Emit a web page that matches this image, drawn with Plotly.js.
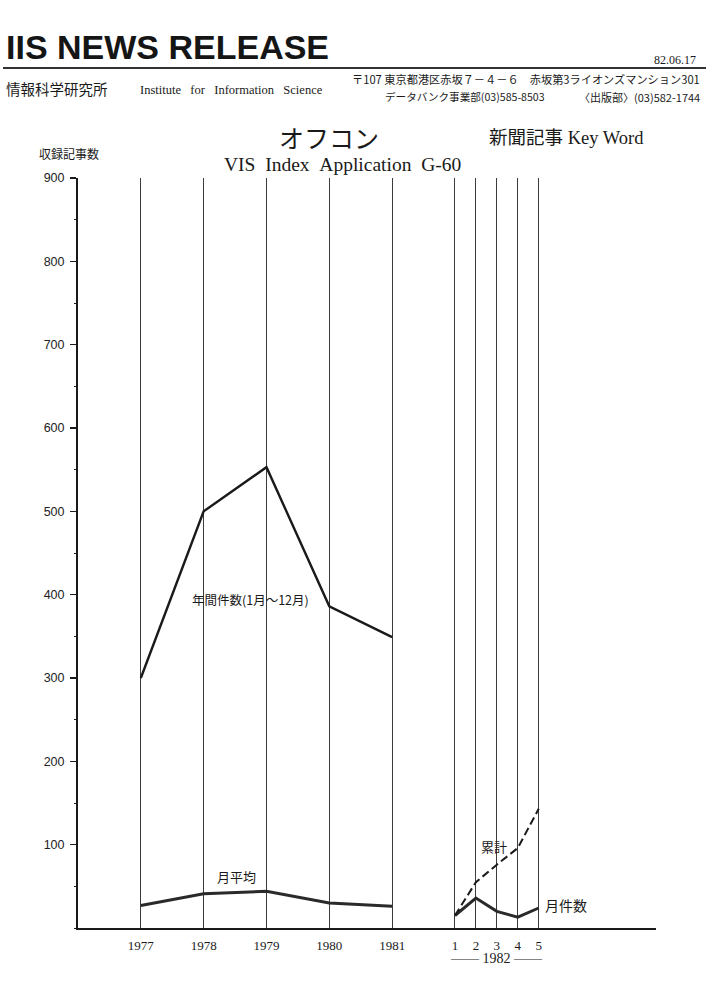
<!DOCTYPE html>
<html>
<head>
<meta charset="utf-8">
<script src="https://cdn.plot.ly/plotly-3.0.1.min.js"></script>
<style>
  html, body { margin: 0; padding: 0; background: #ffffff; }
  #chart { width: 709px; height: 983px; }
</style>
</head>
<body>
<div id="chart"></div>
<script>
// ---- data ----
const years = [1977, 1978, 1979, 1980, 1981];
const annualCounts = [300, 500, 553, 386, 349];      // 年間件数(1月～12月)
const monthlyAverage = [27, 41, 44, 30, 26];         // 月平均
const months1982 = [1, 2, 3, 4, 5];
const monthlyCounts1982 = [15, 36, 20, 13, 24];      // 月件数
const cumulative1982 = [15, 55, 76, 96, 143];        // 累計
const yTickValues = [100, 200, 300, 400, 500, 600, 700, 800, 900];

// positions on the x scale: one year = 3 units, one month = 1 unit
const yearX = years.map(y => (y - years[0]) * 3);
const monthX = months1982.map(m => (years.length - 1) * 3 + 3 + (m - 1));

// layout helpers (page pixels -> paper coordinates)
const PL = 78, PT = 178, PW = 578, PH = 750, PB = PT + PH;
const px = x => (x - PL) / PW;
const py = y => (PB - y) / PH;

const serif = '"Liberation Serif", "Times New Roman", "Noto Sans CJK JP", serif';
const sans = '"Liberation Sans", Arial, "Noto Sans CJK JP", sans-serif';
const cjk = '"Noto Sans CJK JP", "Noto Sans CJK SC", sans-serif';
const ink = '#1a1a1a';

const traces = [
  { x: yearX, y: annualCounts, type: 'scatter', mode: 'lines', name: '年間件数',
    line: { color: ink, width: 2.4 }, hoverinfo: 'skip' },
  { x: yearX, y: monthlyAverage, type: 'scatter', mode: 'lines', name: '月平均',
    line: { color: '#2a2a2a', width: 3 }, hoverinfo: 'skip' },
  { x: monthX, y: monthlyCounts1982, type: 'scatter', mode: 'lines', name: '月件数',
    line: { color: '#2a2a2a', width: 3 }, hoverinfo: 'skip' },
  { x: monthX, y: cumulative1982, type: 'scatter', mode: 'lines', name: '累計',
    line: { color: ink, width: 2, dash: '8px,4px' }, hoverinfo: 'skip' }
];

const nb = '\u00a0';
const annotations = [
  // header
  { text: '<b>IIS NEWS RELEASE</b>', x: px(4), y: py(47), xanchor: 'left', yanchor: 'middle',
    font: { family: sans, size: 34, color: '#151515' } },
  { text: '82.06.17', x: px(698), y: py(60), xanchor: 'right', yanchor: 'middle',
    font: { family: serif, size: 12, color: ink } },
  { text: '情報科学研究所', x: px(4), y: py(89), xanchor: 'left', yanchor: 'middle',
    font: { family: cjk, size: 14.5, color: ink } },
  { text: 'Institute' + nb + nb + nb + 'for' + nb + nb + nb + 'Information' + nb + nb + nb + 'Science', x: px(138), y: py(90), xanchor: 'left', yanchor: 'middle',
    font: { family: serif, size: 12.5, color: ink } },
  { text: '〒107 東京都港区赤坂７－４－６　赤坂第3ライオンズマンション301', x: px(702), y: py(79), xanchor: 'right', yanchor: 'middle',
    font: { family: cjk, size: 11.2, color: ink } },
  { text: 'データバンク事業部(03)585-8503', x: px(383), y: py(97), xanchor: 'left', yanchor: 'middle',
    font: { family: cjk, size: 10.6, color: ink } },
  { text: '〈出版部〉(03)582-1744', x: px(702), y: py(97), xanchor: 'right', yanchor: 'middle',
    font: { family: cjk, size: 11, color: ink } },
  // titles
  { text: 'オフコン', x: px(329), y: py(137), xanchor: 'center', yanchor: 'middle',
    font: { family: cjk, size: 25, color: ink } },
  { text: '新聞記事 Key Word', x: px(487), y: py(138), xanchor: 'left', yanchor: 'middle',
    font: { family: serif, size: 18.5, color: ink } },
  { text: 'VIS' + nb + nb + 'Index' + nb + nb + 'Application' + nb + nb + 'G-60', x: px(222), y: py(165), xanchor: 'left', yanchor: 'middle',
    font: { family: serif, size: 19.5, color: ink } },
  { text: '収録記事数', x: px(37), y: py(154), xanchor: 'left', yanchor: 'middle',
    font: { family: cjk, size: 12, color: ink } },
  // series labels (data coordinates)
  { text: '年間件数(1月～12月)', xref: 'x', yref: 'y', x: 5.25, y: 394, xanchor: 'center', yanchor: 'middle',
    font: { family: cjk, size: 12.5, color: ink } },
  { text: '月平均', xref: 'x', yref: 'y', x: 4.58, y: 62, xanchor: 'center', yanchor: 'middle',
    font: { family: cjk, size: 13, color: ink } },
  { text: '累計', xref: 'x', yref: 'y', x: 16.85, y: 98, xanchor: 'center', yanchor: 'middle',
    font: { family: cjk, size: 13, color: ink } },
  { text: '月件数', xref: 'x', yref: 'y', x: 19.2, y: 28, xanchor: 'left', yanchor: 'middle',
    font: { family: cjk, size: 14, color: ink } },
  // 1982 group label
  { text: '——' + nb + '1982' + nb + '——', xref: 'x', x: 17, y: py(958), xanchor: 'center', yanchor: 'middle',
    font: { family: serif, size: 14, color: ink } }
].map(a => Object.assign({ xref: 'paper', yref: 'paper', showarrow: false }, a));

const shapes = [
  { type: 'line', xref: 'paper', yref: 'paper', x0: px(3), x1: px(706), y0: py(68), y1: py(68),
    line: { color: '#333', width: 1.8 } }
];

const layout = {
  width: 709, height: 983,
  margin: { l: PL, r: 709 - PL - PW, t: PT, b: 983 - PB, pad: 0 },
  paper_bgcolor: '#ffffff', plot_bgcolor: '#ffffff',
  showlegend: false,
  xaxis: {
    range: [-3, 24.6], fixedrange: true,
    tickmode: 'array',
    tickvals: yearX.concat(monthX),
    ticktext: years.map(String).concat(months1982.map(String)),
    ticks: '', showgrid: true, gridcolor: '#3c3c3c', gridwidth: 1,
    zeroline: false, showline: true, linecolor: '#1a1a1a', linewidth: 2,
    tickfont: { family: serif, size: 13, color: ink },
    ticklabelstandoff: 4
  },
  yaxis: {
    range: [0, 900], fixedrange: true,
    tickmode: 'array', tickvals: yTickValues, ticktext: yTickValues.map(String),
    ticks: 'outside', ticklen: 6, tickwidth: 1.3, tickcolor: '#1a1a1a',
    minor: { tickmode: 'linear', tick0: 0, dtick: 50, ticks: 'outside', ticklen: 2.5, tickwidth: 1, tickcolor: '#1a1a1a', showgrid: false },
    showgrid: false, zeroline: false, showline: true, linecolor: '#1a1a1a', linewidth: 2,
    tickfont: { family: sans, size: 12.5, color: '#222' },
    ticklabelstandoff: 3
  },
  annotations: annotations,
  shapes: shapes
};

Plotly.newPlot('chart', traces, layout, { displayModeBar: false, staticPlot: true });
</script>
</body>
</html>
